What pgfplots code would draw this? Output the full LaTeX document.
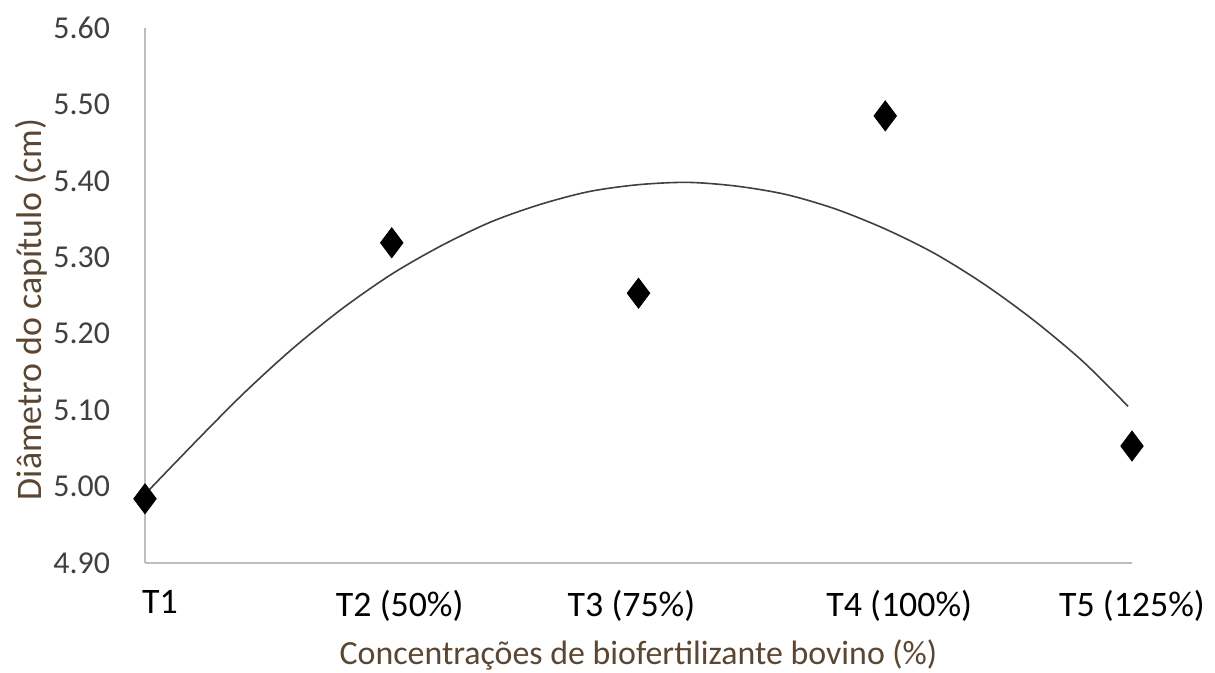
\documentclass[border=0pt]{standalone}
\usepackage{pgfplots}
\pgfplotsset{compat=1.18}
\usepackage{fontspec}
\setmainfont{Carlito}
\definecolor{axisgray}{HTML}{BDBDBD}
\definecolor{ticklab}{HTML}{404040}
\definecolor{lab}{HTML}{5A4632}
\definecolor{curve}{HTML}{404040}
\begin{document}
\begin{tikzpicture}
\path[use as bounding box] (-72.5bp,-55bp) rectangle (535bp,281.5bp);
\begin{axis}[
  at={(0,0)}, anchor=south west,
  scale only axis, width=493.5bp, height=267.5bp,
  xmin=1, xmax=5, ymin=4.9, ymax=5.6,
  axis x line=bottom, axis y line=left,
  axis line style={-, draw=axisgray, line width=1.1bp},
  major tick length=0pt,
  xtick={1,2,3,4,5},
  xticklabels={\hspace*{15bp}T1, \hspace*{8bp}T2 (50\%), T3 (75\%)\hspace*{7bp}, \hspace*{14bp}T4 (100\%), T5 (125\%)},
  ytick={4.9,5.0,5.1,5.2,5.3,5.4,5.5,5.6},
  yticklabels={4.90,5.00,5.10,5.20,5.30,5.40,5.50,5.60},
  xticklabel style={font=\fontsize{18}{21}\selectfont, text=black, yshift=-10bp},
  yticklabel style={font=\fontsize{16}{19}\selectfont, text=ticklab, xshift=-14bp},
  xlabel={Concentrações de biofertilizante bovino (\%)},
  ylabel={Diâmetro do capítulo (cm)},
  xlabel style={font=\fontsize{17}{20}\selectfont, text=lab, at={(axis description cs:0.5,0)}, anchor=center, yshift=-46bp},
  ylabel style={font=\fontsize{18}{21}\selectfont, text=lab, yshift=-4bp, xshift=-7bp},
  clip=false,
]
\addplot[curve, line width=0.8bp, smooth, no marks] coordinates {
(1.00,4.990) (1.20,5.057) (1.40,5.122) (1.60,5.181) (1.80,5.233) (2.00,5.278)
(2.20,5.315) (2.40,5.346) (2.60,5.369) (2.80,5.386) (3.00,5.395) (3.20,5.398)
(3.40,5.393) (3.60,5.382) (3.80,5.363) (4.00,5.337)
(4.20,5.305) (4.40,5.265) (4.60,5.218) (4.80,5.164) (4.984,5.105)
};
\addplot[only marks, mark=diamond*, mark size=7.5bp, color=black] coordinates {
(1,4.984) (2,5.319) (3,5.253) (4,5.485) (5,5.053)
};
\end{axis}
\end{tikzpicture}
\end{document}
